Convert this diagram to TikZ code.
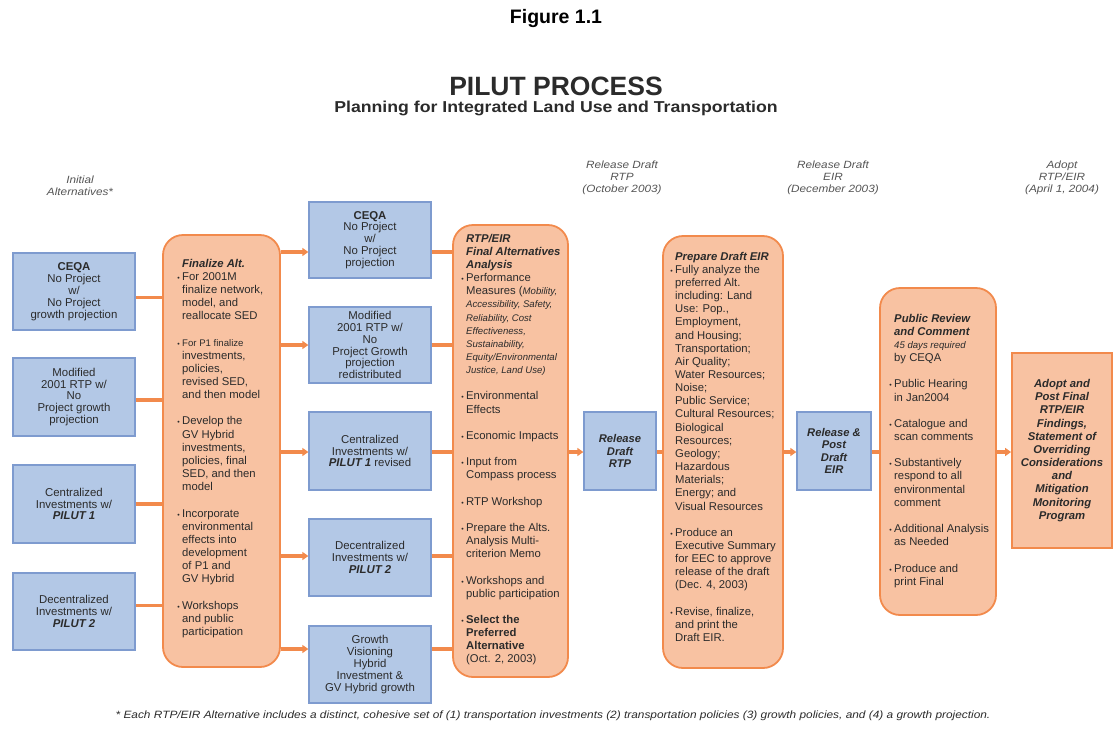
\documentclass[tikz,border=0pt]{standalone}
\usepackage{fontspec}
\setmainfont{Liberation Sans}
\newfontfamily\widesans[FakeStretch=1.12]{Liberation Sans}
\usetikzlibrary{arrows.meta,calc}
\definecolor{bfill}{HTML}{B3C8E6}
\definecolor{bdraw}{HTML}{7E9BCF}
\definecolor{ofill}{HTML}{F8C2A2}
\definecolor{odraw}{HTML}{F28A4C}
\definecolor{txt}{HTML}{2B2B2B}
\definecolor{hdrgray}{HTML}{555555}
\newcommand\bu{\llap{\scriptsize\textbullet\hspace{2.5pt}}}
\newcommand\sm[1]{{\itshape\fontsize{9.6}{13.15}\selectfont #1}}
\newcommand\bi[1]{\textbf{\textit{#1}}}
\tikzset{
 bluebox/.style={draw=bdraw, fill=bfill, line width=1.3pt, inner sep=0pt, font=\fontsize{11.4}{11.9}\selectfont, text=txt, align=center},
 bluebold/.style={bluebox, font=\bfseries\itshape\fontsize{11.2}{12.6}\selectfont},
 orbox/.style={draw=odraw, fill=ofill, line width=1.8pt, rounded corners=20pt, inner sep=0pt},
 btext/.style={anchor=north west, inner sep=0pt, align=left, font=\fontsize{11.3}{13.15}\selectfont, text=txt},
 hdrlabel/.style={font=\widesans\itshape\fontsize{10.5}{12}\selectfont, text=hdrgray, align=center},
 arrowline/.style={draw=odraw, line width=3.2pt, -{Triangle[length=6pt,width=8pt]}},
 conn/.style={draw=odraw, line width=3.2pt},
}
\begin{document}
\begin{tikzpicture}[x=1pt,y=-1pt]
\useasboundingbox (0,0) rectangle (1113,734);
% titles
\node[font=\bfseries\fontsize{19.5}{20}\selectfont] (fig) at (556,18) {Figure 1.1};
\node[anchor=base, font=\bfseries\fontsize{26.5}{27}\selectfont, text=txt] (title) at (556,95) {PILUT PROCESS};
\node[anchor=base, font=\widesans\bfseries\fontsize{15.8}{16}\selectfont, text=txt] (subtitle) at (556,112.5) {Planning for Integrated Land Use and Transportation};
% header labels
\node[hdrlabel] (h1) at (80,186) {Initial\\Alternatives*};
\node[hdrlabel] (h2) at (622,178) {Release Draft\\RTP\\(October 2003)};
\node[hdrlabel] (h3) at (833,178) {Release Draft\\EIR\\(December 2003)};
\node[hdrlabel] (h4) at (1062,178) {Adopt\\RTP/EIR\\(April 1, 2004)};
% left column
\node[bluebox, minimum width=122pt, minimum height=77pt] (L1) at (74,291.5) {\textbf{CEQA}\\No Project\\w/\\No Project\\growth projection};
\node[bluebox, minimum width=122pt, minimum height=78pt] (L2) at (74,397) {Modified\\2001 RTP w/\\No\\Project growth\\projection};
\node[bluebox, minimum width=122pt, minimum height=78pt] (L3) at (74,504) {Centralized\\Investments w/\\\bi{PILUT 1}};
\node[bluebox, minimum width=122pt, minimum height=77pt] (L4) at (74,611.5) {Decentralized\\Investments w/\\\bi{PILUT 2}};
% finalize
\node[orbox, minimum width=117pt, minimum height=432pt] (F) at (221.5,451) {};
\node[btext] (Ft) at (182,258.8) {\bi{Finalize Alt.}\\
\bu For 2001M\\
finalize network,\\
model, and\\
reallocate SED\\[13.15pt]
{\fontsize{9.6}{13.15}\selectfont\bu For P1 finalize}\\
investments,\\
policies,\\
revised SED,\\
and then model\\[13.15pt]
\bu Develop the\\
GV Hybrid\\
investments,\\
policies, final\\
SED, and then\\
model\\[13.15pt]
\bu Incorporate\\
environmental\\
effects into\\
development\\
of P1 and\\
GV Hybrid\\[13.15pt]
\bu Workshops\\
and public\\
participation};
% middle column
\node[bluebox, minimum width=122pt, minimum height=76pt] (M1) at (370,240) {\textbf{CEQA}\\No Project\\w/\\No Project\\projection};
\node[bluebox, minimum width=122pt, minimum height=76pt] (M2) at (370,345) {Modified\\2001 RTP w/\\No\\Project Growth\\projection\\redistributed};
\node[bluebox, minimum width=122pt, minimum height=78pt] (M3) at (370,451) {Centralized\\Investments w/\\\bi{PILUT 1} revised};
\node[bluebox, minimum width=122pt, minimum height=77pt] (M4) at (370,557.5) {Decentralized\\Investments w/\\\bi{PILUT 2}};
\node[bluebox, minimum width=122pt, minimum height=77pt] (M5) at (370,664.5) {Growth\\Visioning\\Hybrid\\Investment \&\\GV Hybrid growth};
% RTP/EIR analysis
\node[orbox, minimum width=115pt, minimum height=452pt] (R) at (510.5,451) {};
\node[btext] (Rt) at (466,233.8) {\bi{RTP/EIR}\\
\bi{Final Alternatives}\\
\bi{Analysis}\\
\bu Performance\\
Measures (\sm{Mobility,}\\
\sm{Accessibility, Safety,}\\
\sm{Reliability, Cost}\\
\sm{Effectiveness,}\\
\sm{Sustainability,}\\
\sm{Equity/Environmental}\\
\sm{Justice, Land Use)}\\[13.15pt]
\bu Environmental\\
Effects\\[13.15pt]
\bu Economic Impacts\\[13.15pt]
\bu Input from\\
Compass process\\[13.15pt]
\bu RTP Workshop\\[13.15pt]
\bu Prepare the Alts.\\
Analysis Multi-\\
criterion Memo\\[13.15pt]
\bu Workshops and\\
public participation\\[13.15pt]
\bu\textbf{Select the}\\
\textbf{Preferred}\\
\textbf{Alternative}\\
(Oct. 2, 2003)};
% release draft RTP
\node[bluebold, minimum width=72pt, minimum height=78pt] (RD) at (620,451) {Release\\Draft\\RTP};
% prepare draft EIR
\node[orbox, minimum width=120pt, minimum height=432pt] (P) at (723,452) {};
\node[btext] (Pt) at (675,251.8) {\bi{Prepare Draft EIR}\\
\bu Fully analyze the\\
preferred Alt.\\
including: Land\\
Use: Pop.,\\
Employment,\\
and Housing;\\
Transportation;\\
Air Quality;\\
Water Resources;\\
Noise;\\
Public Service;\\
Cultural Resources;\\
Biological\\
Resources;\\
Geology;\\
Hazardous\\
Materials;\\
Energy; and\\
Visual Resources\\[13.15pt]
\bu Produce an\\
Executive Summary\\
for EEC to approve\\
release of the draft\\
(Dec. 4, 2003)\\[13.15pt]
\bu Revise, finalize,\\
and print the\\
Draft EIR.};
% release & post
\node[bluebold, minimum width=74pt, minimum height=78pt] (RP) at (834,451) {Release \&\\Post\\Draft\\EIR};
% public review
\node[orbox, minimum width=116pt, minimum height=327pt] (PR) at (938,451.5) {};
\node[btext] (PRt) at (894,313.8) {\bi{Public Review}\\
\bi{and Comment}\\
\sm{45 days required}\\
by CEQA\\[13.15pt]
\bu Public Hearing\\
in Jan2004\\[13.15pt]
\bu Catalogue and\\
scan comments\\[13.15pt]
\bu Substantively\\
respond to all\\
environmental\\
comment\\[13.15pt]
\bu Additional Analysis\\
as Needed\\[13.15pt]
\bu Produce and\\
print Final};
% final
\node[draw=odraw, fill=ofill, line width=1.8pt, inner sep=0pt, minimum width=100pt, minimum height=195pt, align=center, text=txt, font=\bfseries\itshape\fontsize{11.3}{13.15}\selectfont] (FA) at (1062,450.5) {Adopt and\\Post Final\\RTP/EIR\\Findings,\\Statement of\\Overriding\\Considerations\\and\\Mitigation\\Monitoring\\Program};
% connectors left -> finalize
\coordinate (l1out) at ([yshift=-6pt]L1.east);
\coordinate (l2out) at ([yshift=-3pt]L2.east);
\coordinate (l3out) at (L3.east);
\coordinate (l4out) at ([yshift=6pt]L4.east);
\foreach \c in {l1out,l2out,l3out,l4out}{
  \draw[conn] (\c) -- (\c -| F.west);
}
% finalize -> middle
\coordinate (m1in) at ([yshift=-12pt]M1.west);
\coordinate (m2in) at (M2.west);
\coordinate (m3in) at ([yshift=-1pt]M3.west);
\coordinate (m4in) at ([yshift=1.5pt]M4.west);
\coordinate (m5in) at ([yshift=15.5pt]M5.west);
\foreach \c/\m in {m1in/M1,m2in/M2,m3in/M3,m4in/M4,m5in/M5}{
  \draw[arrowline] (F.east |- \c) -- (\c);
  \draw[conn] (\c -| \m.east) -- (\c -| R.west);
}
% main chain
\coordinate (chain) at (R.east |- 0,452);
\draw[arrowline] (chain) -- (chain -| RD.west);
\draw[conn] (chain -| RD.east) -- (chain -| P.west);
\draw[arrowline] (chain -| P.east) -- (chain -| RP.west);
\draw[conn] (chain -| RP.east) -- (chain -| PR.west);
\draw[arrowline] (chain -| PR.east) -- (chain -| FA.west);
% footnote
\node[font=\widesans\itshape\fontsize{10.6}{11}\selectfont, text=txt] (foot) at (553,716) {* Each RTP/EIR Alternative includes a distinct, cohesive set of (1) transportation investments (2) transportation policies (3) growth policies, and (4) a growth projection.};
\end{tikzpicture}
\end{document}
